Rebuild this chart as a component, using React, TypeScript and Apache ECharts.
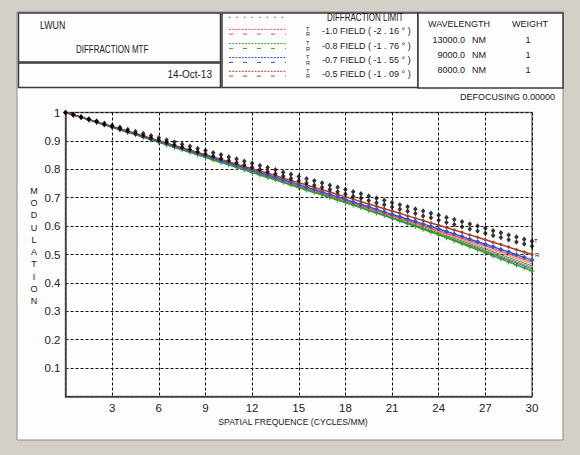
import React, { useEffect, useRef } from "react";
import * as echarts from "echarts";

// Spatial frequency sample points (cycles/mm)
const freqFine = [0,0.5,1,1.5,2,2.5,3,3.5,4,4.5,5,5.5,6,6.5,7,7.5,8,8.5,9,9.5,10,10.5,11,11.5,12,12.5,13,13.5,14,14.5,15,15.5,16,16.5,17,17.5,18,18.5,19,19.5,20,20.5,21,21.5,22,22.5,23,23.5,24,24.5,25,25.5,26,26.5,27,27.5,28,28.5,29,29.5,30];
const freqCoarse = [0,3,6,9,12,15,18,21,24,27,30];

// Diffraction limit (T and R), black markers
const diffT = [1.000,0.992,0.985,0.977,0.970,0.962,0.955,0.948,0.940,0.933,0.926,0.918,0.911,0.903,0.896,0.888,0.881,0.873,0.866,0.858,0.851,0.843,0.836,0.828,0.821,0.813,0.806,0.798,0.790,0.783,0.775,0.767,0.760,0.752,0.744,0.737,0.729,0.721,0.714,0.706,0.698,0.691,0.683,0.675,0.668,0.660,0.653,0.645,0.638,0.630,0.623,0.615,0.607,0.600,0.592,0.584,0.577,0.569,0.562,0.554,0.547];
const diffR = [1.000,0.992,0.983,0.975,0.967,0.958,0.950,0.942,0.934,0.926,0.918,0.910,0.902,0.894,0.886,0.878,0.870,0.862,0.854,0.846,0.838,0.831,0.823,0.815,0.807,0.799,0.791,0.784,0.776,0.768,0.760,0.752,0.744,0.737,0.729,0.721,0.713,0.705,0.698,0.690,0.682,0.675,0.667,0.659,0.652,0.644,0.636,0.629,0.621,0.613,0.606,0.598,0.590,0.583,0.575,0.567,0.560,0.552,0.544,0.537,0.529];

// Field curves with markers
const brownMk = [1.000,0.992,0.984,0.976,0.967,0.959,0.951,0.943,0.934,0.926,0.918,0.909,0.901,0.893,0.884,0.876,0.868,0.859,0.851,0.843,0.835,0.827,0.818,0.810,0.802,0.794,0.786,0.778,0.769,0.761,0.753,0.745,0.736,0.728,0.720,0.711,0.703,0.695,0.686,0.678,0.670,0.661,0.653,0.645,0.636,0.628,0.620,0.611,0.603,0.595,0.586,0.578,0.569,0.561,0.552,0.543,0.535,0.526,0.517,0.509,0.500];
const blueMk = [1.000,0.992,0.983,0.975,0.967,0.958,0.950,0.942,0.933,0.925,0.916,0.908,0.899,0.891,0.882,0.874,0.865,0.857,0.848,0.840,0.831,0.823,0.814,0.806,0.797,0.789,0.780,0.772,0.763,0.755,0.746,0.737,0.729,0.720,0.711,0.703,0.694,0.685,0.676,0.668,0.659,0.650,0.641,0.633,0.624,0.616,0.607,0.599,0.590,0.581,0.572,0.563,0.554,0.545,0.536,0.527,0.518,0.509,0.499,0.490,0.481];
const greenMk = [1.000,0.991,0.983,0.974,0.965,0.957,0.948,0.939,0.930,0.922,0.913,0.904,0.895,0.886,0.877,0.869,0.860,0.851,0.842,0.833,0.824,0.816,0.807,0.798,0.789,0.780,0.771,0.763,0.754,0.745,0.736,0.727,0.718,0.710,0.701,0.692,0.683,0.674,0.665,0.655,0.646,0.637,0.628,0.618,0.608,0.599,0.589,0.579,0.569,0.559,0.548,0.538,0.527,0.517,0.506,0.495,0.485,0.474,0.463,0.453,0.442];

// Field curves without markers
const redA = [1.000,0.949,0.898,0.846,0.794,0.742,0.690,0.637,0.584,0.530,0.474];
const redB = [1.000,0.949,0.897,0.845,0.792,0.740,0.687,0.634,0.580,0.524,0.467];
const greenB = [1.000,0.949,0.897,0.844,0.791,0.738,0.685,0.631,0.576,0.519,0.460];
const brownB = [1.000,0.948,0.896,0.843,0.790,0.737,0.684,0.629,0.573,0.514,0.454];
const blueB = [1.000,0.948,0.896,0.842,0.789,0.736,0.683,0.628,0.571,0.511,0.449];

const fieldLabels = ["-1.0 FIELD ( -2 . 16 ° )", "-0.8 FIELD ( -1 . 76 ° )", "-0.7 FIELD ( -1 . 55 ° )", "-0.5 FIELD ( -1 . 09 ° )"];
const fieldColors = ["#ff4040", "#2aa02a", "#3050d0", "#b04a30"];
const wavelengths = ["13000.0", "9000.0", "8000.0"];
const weights = ["1", "1", "1"];

const C_RED = "#ff4a4a";
const C_GREEN = "#2e9e2e";
const C_BLUE = "#2f55d8";
const C_BROWN = "#a8402a";

const FONT = '"Liberation Sans", Arial, sans-serif';

const pairs = (xs: number[], ys: number[]) => xs.map((x, i) => [x, ys[i]]);

function txt(text: string, x: number, y: number, size: number, align: string = "left", sx: number = 1, extra: any = {}) {
  return {
    type: "text",
    x,
    y,
    scaleX: sx,
    z: 10,
    style: {
      text,
      fill: "#1a1a1a",
      fontSize: size,
      fontFamily: FONT,
      align,
      verticalAlign: "middle",
      textAlign: align,
      textVerticalAlign: "middle",
      ...extra,
    },
  };
}

function hline(x1: number, x2: number, y: number, stroke: string, dash: any, w: number = 1) {
  return {
    type: "line",
    z: 10,
    shape: { x1, y1: y, x2, y2: y },
    style: { stroke, lineWidth: w, lineDash: dash },
  };
}

function box(x: number, y: number, w: number, h: number) {
  return {
    type: "rect",
    z: 5,
    shape: { x, y, width: w, height: h },
    style: { fill: "#fefefe", stroke: "#3a3a3a", lineWidth: 1.5 },
  };
}

export default function App() {
  const ref = useRef<HTMLDivElement>(null);

  useEffect(() => {
    if (!ref.current) return;
    const chart = echarts.init(ref.current, undefined, { renderer: "svg" });

    const legendRowsY = [29.3, 43.6, 57.6, 71.3];
    const legendTextY = [31, 45.7, 60, 74];

    const graphic: any[] = [
      {
        type: "rect",
        z: -1,
        shape: { x: 17, y: 12, width: 546, height: 428 },
        style: { fill: "#fdfdfd", stroke: "#8a8a8a", lineWidth: 1 },
      },
      box(18.5, 13, 202, 49),
      box(18.5, 63, 202, 24.5),
      box(222, 13, 196, 74.5),
      box(418, 13, 145, 75),
      txt("LWUN", 40, 25, 10, "left", 0.88),
      txt("DIFFRACTION MTF", 76, 50, 10, "left", 0.8),
      txt("14-Oct-13", 212, 74, 10, "right"),
      hline(229, 288, 17.3, "#666666", [1.5, 6], 1),
      txt("DIFFRACTION LIMIT", 327, 17.5, 10, "left", 0.8),
      txt("WAVELENGTH", 428, 24, 9, "left"),
      txt("WEIGHT", 512, 24, 9, "left"),
      txt("DEFOCUSING 0.00000", 555, 97, 9, "right"),
      {
        type: "text",
        x: 34,
        y: 184.5,
        z: 10,
        style: {
          text: "MODULATION".split("").join("\n"),
          fill: "#1a1a1a",
          fontSize: 9,
          fontFamily: FONT,
          lineHeight: 12.3,
          align: "center",
          verticalAlign: "top",
          textAlign: "center",
          textVerticalAlign: "top",
        },
      },
      txt("SPATIAL FREQUENCE (CYCLES/MM)", 293, 421.7, 8.6, "center"),
      txt("T", 534, 240.5, 6, "left"),
      txt("R", 535, 254.5, 6, "left"),
    ];

    fieldLabels.forEach((label, i) => {
      const y = legendRowsY[i];
      graphic.push(hline(229, 286, y, fieldColors[i], [2, 1.2], 1));
      graphic.push(hline(229, 286, y + 4.8, fieldColors[i], [4, 10], 1));
      graphic.push(txt("T", 306, y - 0.5, 5.5, "left"));
      graphic.push(txt("R", 306, y + 5, 5.5, "left"));
      graphic.push(txt(label, 322, legendTextY[i], 9, "left"));
    });

    const wlY = [40, 55, 70];
    wavelengths.forEach((w, i) => {
      graphic.push(txt(w, 465, wlY[i], 9, "right"));
      graphic.push(txt("NM", 472, wlY[i], 9, "left"));
      graphic.push(txt(weights[i], 528, wlY[i], 9, "center"));
    });

    const plusPath = "path://M2,0H3V2H5V3H3V5H2V3H0V2H2Z";

    const lineSeries = (name: string, xs: number[], ys: number[], color: string, width: number, symbol: any, symbolSize: any, z: number) => ({
      name,
      type: "line",
      data: pairs(xs, ys),
      showSymbol: symbol !== "none",
      symbol,
      symbolSize,
      z,
      lineStyle: { color, width },
      itemStyle: { color },
      emphasis: { disabled: true },
    });

    const option: any = {
      animation: false,
      backgroundColor: "#d4d0c8",
      grid: {
        left: 65.5,
        top: 112.5,
        width: 466.5,
        height: 284,
        show: true,
        borderColor: "#7a7a7a",
        borderWidth: 1.5,
        backgroundColor: "transparent",
      },
      xAxis: {
        type: "value",
        min: 0,
        max: 30,
        interval: 3,
        axisLine: { show: true, lineStyle: { color: "#444", width: 1.5 } },
        axisTick: { show: false },
        axisLabel: {
          color: "#222",
          fontSize: 11.5,
          fontFamily: FONT,
          margin: 5,
          formatter: (v: number) => (v === 0 ? "" : String(v)),
        },
        splitLine: { show: true, lineStyle: { color: "#111", type: [3, 2], width: 1 } },
      },
      yAxis: {
        type: "value",
        min: 0,
        max: 1,
        interval: 0.1,
        axisLine: { show: true, lineStyle: { color: "#444", width: 1.5 } },
        axisTick: { show: false },
        axisLabel: {
          color: "#222",
          fontSize: 11.5,
          fontFamily: FONT,
          margin: 5,
          formatter: (v: number) => (Math.abs(v) < 1e-9 ? "" : String(+v.toFixed(1))),
        },
        splitLine: { show: true, lineStyle: { color: "#111", type: [3, 2], width: 1 } },
      },
      graphic,
      series: [
        lineSeries("blueB", freqCoarse, blueB, C_BLUE, 1, "none", 0, 2),
        lineSeries("brownB", freqCoarse, brownB, "#c06a50", 1, "none", 0, 2),
        lineSeries("greenB", freqCoarse, greenB, C_GREEN, 1, "none", 0, 2),
        lineSeries("redB", freqCoarse, redB, "#ff7070", 1, "none", 0, 2),
        lineSeries("redA", freqCoarse, redA, C_RED, 1.3, "none", 0, 2),
        lineSeries("greenMk", freqFine, greenMk, C_GREEN, 1.5, plusPath, 5, 3),
        lineSeries("blueMk", freqFine, blueMk, C_BLUE, 1.5, "diamond", [5, 5], 3),
        lineSeries("brownMk", freqFine, brownMk, C_BROWN, 1.5, "diamond", [4, 4], 3),
        {
          name: "diffR",
          type: "scatter",
          data: pairs(freqFine, diffR),
          symbol: "diamond",
          symbolSize: [4.5, 5.5],
          itemStyle: { color: "#000" },
          z: 4,
          emphasis: { disabled: true },
        },
        {
          name: "diffT",
          type: "scatter",
          data: pairs(freqFine, diffT),
          symbol: "diamond",
          symbolSize: [4.5, 5.5],
          itemStyle: { color: "#000" },
          z: 4,
          emphasis: { disabled: true },
        },
      ],
    };

    chart.setOption(option);
    return () => chart.dispose();
  }, []);

  return <div ref={ref} style={{ position: "fixed", left: 0, top: 0, width: 580, height: 455 }} />;
}
